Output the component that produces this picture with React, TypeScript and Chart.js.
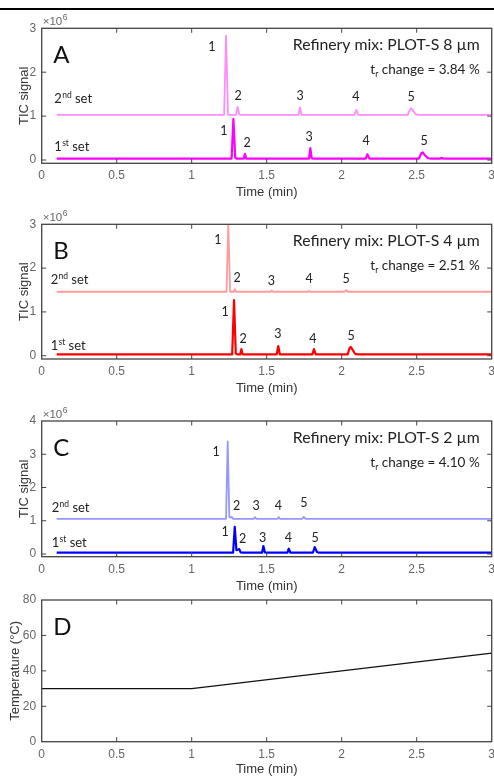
import React, { useEffect, useRef } from "react";
import { Chart, registerables } from "chart.js";

Chart.register(...registerables);

// ---------- shared axis data ----------
const timeTicks = [0, 0.5, 1, 1.5, 2, 2.5, 3];
const timeTickLabels = ["0", "0.5", "1", "1.5", "2", "2.5", "3"];
const ticTicks3 = [0, 1, 2, 3];
const ticTicks4 = [0, 1, 2, 3, 4];
const tempTicks = [0, 20, 40, 60, 80];

// ---------- Panel A: PLOT-S 8 µm (signal ×10^6) ----------
const a2ndTrace = [
  [0.1, 1.03], [1.216, 1.03], [1.229, 2.83], [1.242, 1.03], [1.296, 1.03], [1.306, 1.21], [1.317, 1.04],
  [1.33, 1.03], [1.712, 1.03], [1.722, 1.2], [1.732, 1.03], [2.085, 1.03], [2.097, 1.14], [2.112, 1.03],
  [2.44, 1.03], [2.455, 1.15], [2.464, 1.18], [2.475, 1.13], [2.495, 1.04], [2.52, 1.03], [3, 1.03],
];
const a1stTrace = [
  [0.1, 0.03], [1.266, 0.03], [1.278, 0.94], [1.29, 0.05], [1.3, 0.03], [1.347, 0.03], [1.355, 0.14],
  [1.364, 0.03], [1.782, 0.03], [1.791, 0.27], [1.8, 0.04], [1.81, 0.03], [2.16, 0.03], [2.171, 0.13],
  [2.185, 0.03], [2.515, 0.03], [2.53, 0.15], [2.54, 0.175], [2.552, 0.12], [2.575, 0.04], [2.6, 0.03],
  [2.655, 0.03], [2.665, 0.05], [2.68, 0.03], [3, 0.03],
];
const a2ndPeakLabels: [number, number, string][] = [
  [1.135, 2.57, "1"], [1.309, 1.46, "2"], [1.722, 1.46, "3"], [2.095, 1.44, "4"], [2.462, 1.44, "5"],
];
const a1stPeakLabels: [number, number, string][] = [
  [1.215, 0.66, "1"], [1.369, 0.39, "2"], [1.782, 0.52, "3"], [2.162, 0.43, "4"], [2.549, 0.43, "5"],
];
const aSetLabels: [number, number, string, string][] = [
  [0.084, 1.29, "2", "nd"], [0.084, 0.21, "1", "st"],
];

// ---------- Panel B: PLOT-S 4 µm ----------
const b2ndTrace = [
  [0.1, 1.46], [1.232, 1.46], [1.244, 3.0], [1.256, 1.46], [1.28, 1.46], [1.287, 1.52], [1.296, 1.46],
  [1.526, 1.46], [1.533, 1.49], [1.541, 1.46], [1.775, 1.46], [1.782, 1.48], [1.79, 1.46],
  [2.018, 1.46], [2.029, 1.5], [2.042, 1.46], [3, 1.46],
];
const b1stTrace = [
  [0.1, 0.03], [1.27, 0.03], [1.282, 1.27], [1.294, 0.05], [1.303, 0.03], [1.323, 0.03], [1.331, 0.15],
  [1.34, 0.03], [1.567, 0.03], [1.577, 0.22], [1.588, 0.03], [1.805, 0.03], [1.815, 0.15], [1.827, 0.03],
  [2.04, 0.03], [2.052, 0.17], [2.06, 0.2], [2.07, 0.15], [2.09, 0.04], [2.11, 0.03], [3, 0.03],
];
const b2ndPeakLabels: [number, number, string][] = [
  [1.175, 2.64, "1"], [1.302, 1.77, "2"], [1.531, 1.7, "3"], [1.782, 1.75, "4"], [2.029, 1.75, "5"],
];
const b1stPeakLabels: [number, number, string][] = [
  [1.222, 1.0, "1"], [1.342, 0.38, "2"], [1.575, 0.5, "3"], [1.807, 0.38, "4"], [2.062, 0.45, "5"],
];
const bSetLabels: [number, number, string, string][] = [
  [0.06, 1.63, "2", "nd"], [0.06, 0.12, "1", "st"],
];

// ---------- Panel C: PLOT-S 2 µm ----------
const c2ndTrace = [
  [0.1, 1.06], [1.229, 1.06], [1.24, 3.39], [1.251, 1.1], [1.262, 1.1], [1.267, 1.12], [1.275, 1.06],
  [1.414, 1.06], [1.422, 1.11], [1.43, 1.06], [1.572, 1.06], [1.58, 1.11], [1.588, 1.06],
  [1.737, 1.06], [1.747, 1.12], [1.76, 1.06], [3, 1.06],
];
const c1stTrace = [
  [0.1, 0.04], [1.276, 0.04], [1.287, 0.82], [1.298, 0.12], [1.31, 0.13], [1.317, 0.15], [1.326, 0.05],
  [1.34, 0.04], [1.469, 0.04], [1.478, 0.24], [1.488, 0.05], [1.498, 0.04], [1.638, 0.04], [1.647, 0.16],
  [1.658, 0.04], [1.808, 0.04], [1.82, 0.21], [1.835, 0.06], [1.85, 0.04], [3, 0.04],
];
const c2ndPeakLabels: [number, number, string][] = [
  [1.162, 3.08, "1"], [1.3, 1.45, "2"], [1.429, 1.45, "3"], [1.577, 1.45, "4"], [1.747, 1.53, "5"],
];
const c1stPeakLabels: [number, number, string][] = [
  [1.222, 0.67, "1"], [1.34, 0.45, "2"], [1.473, 0.48, "3"], [1.644, 0.48, "4"], [1.822, 0.48, "5"],
];
const cSetLabels: [number, number, string, string][] = [
  [0.067, 1.27, "2", "nd"], [0.067, 0.21, "1", "st"],
];

// ---------- Panel D: oven temperature program ----------
const tempProgram = [[0, 30], [1, 30], [3, 50]];

// ---------- styling / layout ----------
const AREA_LEFT = 41.7;
const AREA_RIGHT = 491.7;
const W = 494;
const AXIS_FONT = "'Liberation Sans', Arial, sans-serif";
const ANN_FONT = "Lato, 'Open Sans', sans-serif";
const TICK_COLOR = "#666666";
const TITLE_COLOR = "#333333";
const FRAME_COLOR = "#444444";

interface Series { data: number[][]; color: string; width: number }
interface PanelCfg {
  top: number; height: number; areaTop: number; xAxisH: number;
  yMin: number; yMax: number; yTicks: number[]; yTitle: string; yTitlePad: number;
  exponent: boolean; letter: string; title?: string; change?: string;
  series: Series[]; peakLabels: [number, number, string][]; setLabels: [number, number, string, string][];
}

const panels: PanelCfg[] = [
  {
    top: 0, height: 200, areaTop: 28.3, xAxisH: 36.7, yMin: -0.075, yMax: 3, yTicks: ticTicks3,
    yTitle: "TIC signal", yTitlePad: 16.2, exponent: true, letter: "A",
    title: "Refinery mix: PLOT-S 8 µm", change: "3.84 %",
    series: [
      { data: a2ndTrace, color: "rgb(255,140,255)", width: 1.8 },
      { data: a1stTrace, color: "rgb(255,0,255)", width: 2.2 },
    ],
    peakLabels: [...a2ndPeakLabels, ...a1stPeakLabels], setLabels: aSetLabels,
  },
  {
    top: 200, height: 196, areaTop: 24.3, xAxisH: 37, yMin: -0.075, yMax: 3, yTicks: ticTicks3,
    yTitle: "TIC signal", yTitlePad: 16.2, exponent: true, letter: "B",
    title: "Refinery mix: PLOT-S 4 µm", change: "2.51 %",
    series: [
      { data: b2ndTrace, color: "rgb(255,155,155)", width: 1.8 },
      { data: b1stTrace, color: "rgb(255,0,0)", width: 2.2 },
    ],
    peakLabels: [...b2ndPeakLabels, ...b1stPeakLabels], setLabels: bSetLabels,
  },
  {
    top: 396, height: 198, areaTop: 25, xAxisH: 37.3, yMin: -0.08, yMax: 4, yTicks: ticTicks4,
    yTitle: "TIC signal", yTitlePad: 16.2, exponent: true, letter: "C",
    title: "Refinery mix: PLOT-S 2 µm", change: "4.10 %",
    series: [
      { data: c2ndTrace, color: "rgb(150,150,255)", width: 1.8 },
      { data: c1stTrace, color: "rgb(0,0,255)", width: 2.2 },
    ],
    peakLabels: [...c2ndPeakLabels, ...c1stPeakLabels], setLabels: cSetLabels,
  },
  {
    top: 594, height: 183, areaTop: 6, xAxisH: 35.3, yMin: 0, yMax: 80, yTicks: tempTicks,
    yTitle: "Temperature (°C)", yTitlePad: 7.2, exponent: false, letter: "D",
    series: [{ data: tempProgram, color: "#111111", width: 1.3 }],
    peakLabels: [], setLabels: [],
  },
];

function makeOverlay(cfg: PanelCfg) {
  return {
    id: "overlay",
    afterDraw(chart: any) {
      const { ctx, chartArea: ca, scales } = chart;
      const x = scales.x;
      const y = scales.y;
      ctx.save();
      // inward ticks
      ctx.strokeStyle = FRAME_COLOR;
      ctx.lineWidth = 1;
      const TL = 4.5;
      ctx.beginPath();
      timeTicks.forEach((v) => {
        const px = x.getPixelForValue(v);
        if (px <= ca.left + 1 || px >= ca.right - 1) return;
        ctx.moveTo(px, ca.bottom); ctx.lineTo(px, ca.bottom - TL);
        ctx.moveTo(px, ca.top); ctx.lineTo(px, ca.top + TL);
      });
      cfg.yTicks.forEach((v) => {
        const py = y.getPixelForValue(v);
        if (py <= ca.top + 1 || py >= ca.bottom - 1) return;
        ctx.moveTo(ca.left, py); ctx.lineTo(ca.left + TL, py);
        ctx.moveTo(ca.right, py); ctx.lineTo(ca.right - TL, py);
      });
      ctx.stroke();
      // frame
      ctx.lineWidth = 1.3;
      ctx.strokeRect(ca.left, ca.top, ca.right - ca.left, ca.bottom - ca.top);

      // exponent label
      if (cfg.exponent) {
        ctx.fillStyle = TICK_COLOR;
        ctx.textBaseline = "alphabetic";
        ctx.textAlign = "left";
        ctx.font = `11.5px ${AXIS_FONT}`;
        const base = "×10";
        ctx.fillText(base, ca.left + 1, ca.top - 3);
        const w = ctx.measureText(base).width;
        ctx.font = `8.5px ${AXIS_FONT}`;
        ctx.fillText("6", ca.left + 1 + w + 0.5, ca.top - 8);
      }

      // panel letter
      ctx.fillStyle = "#111111";
      ctx.font = `24px ${ANN_FONT}`;
      ctx.textAlign = "left";
      ctx.textBaseline = "alphabetic";
      ctx.fillText(cfg.letter, ca.left + 11.5, ca.top + 34.5);

      // titles
      if (cfg.title) {
        ctx.font = `15.8px ${ANN_FONT}`;
        ctx.textAlign = "right";
        ctx.fillStyle = "#222222";
        ctx.fillText(cfg.title, ca.right - 12, ca.top + 22);
      }
      if (cfg.change) {
        const rx = ca.right - 12;
        const by = ca.top + 46;
        ctx.font = `13.5px ${ANN_FONT}`;
        const rest = " change = " + cfg.change;
        const wRest = ctx.measureText(rest).width;
        const wt = ctx.measureText("t").width;
        ctx.font = `8.5px ${ANN_FONT}`;
        const wr = ctx.measureText("r").width;
        let cx = rx - wRest - wr - wt;
        ctx.textAlign = "left";
        ctx.font = `13.5px ${ANN_FONT}`;
        ctx.fillText("t", cx, by);
        cx += wt;
        ctx.font = `8.5px ${ANN_FONT}`;
        ctx.fillText("r", cx, by + 2.5);
        cx += wr;
        ctx.font = `13.5px ${ANN_FONT}`;
        ctx.fillText(rest, cx, by);
      }

      // peak labels
      ctx.font = `12.5px ${ANN_FONT}`;
      ctx.textAlign = "center";
      ctx.textBaseline = "middle";
      ctx.fillStyle = "#222222";
      cfg.peakLabels.forEach(([t, v, s]) => {
        ctx.fillText(s, x.getPixelForValue(t), y.getPixelForValue(v));
      });

      // set labels
      ctx.textAlign = "left";
      ctx.textBaseline = "alphabetic";
      cfg.setLabels.forEach(([t, v, n, sup]) => {
        let cx = x.getPixelForValue(t);
        const by = y.getPixelForValue(v);
        ctx.font = `13px ${ANN_FONT}`;
        ctx.fillText(n, cx, by);
        cx += ctx.measureText(n).width;
        ctx.font = `8.5px ${ANN_FONT}`;
        ctx.fillText(sup, cx + 0.3, by - 5);
        cx += ctx.measureText(sup).width + 0.3;
        ctx.font = `13px ${ANN_FONT}`;
        ctx.fillText(" set", cx, by);
      });
      ctx.restore();
    },
  };
}

function Panel({ cfg }: { cfg: PanelCfg }) {
  const ref = useRef<HTMLCanvasElement>(null);
  useEffect(() => {
    const canvas = ref.current;
    if (!canvas) return;
    const chart = new Chart(canvas, {
      type: "line",
      data: {
        datasets: cfg.series.map((s) => ({
          data: s.data.map(([t, v]) => ({ x: t, y: v })),
          borderColor: s.color,
          borderWidth: s.width,
          pointRadius: 0,
          tension: 0,
          fill: false,
          borderJoinStyle: "round" as const,
        })),
      },
      options: {
        animation: false,
        responsive: false,
        devicePixelRatio: 1,
        layout: { padding: { top: cfg.areaTop, left: 0, right: W - AREA_RIGHT, bottom: 0 } },
        plugins: { legend: { display: false }, tooltip: { enabled: false } },
        scales: {
          x: {
            type: "linear",
            min: 0,
            max: 3,
            grid: { display: false, drawTicks: false },
            border: { display: false },
            afterBuildTicks: (s: any) => { s.ticks = timeTicks.map((v) => ({ value: v })); },
            afterFit: (s: any) => { s.height = cfg.xAxisH; s.paddingLeft = 0; s.paddingRight = 0; },
            ticks: {
              padding: 5.5,
              color: TICK_COLOR,
              font: { family: AXIS_FONT, size: 12 },
              maxRotation: 0,
              autoSkip: false,
              callback: (_v: any, i: number) => timeTickLabels[i],
            },
            title: {
              display: true,
              text: "Time (min)",
              color: TITLE_COLOR,
              font: { family: AXIS_FONT, size: 13 },
              padding: 0,
            },
          },
          y: {
            type: "linear",
            min: cfg.yMin,
            max: cfg.yMax,
            grid: { display: false, drawTicks: false },
            border: { display: false },
            afterBuildTicks: (s: any) => { s.ticks = cfg.yTicks.map((v) => ({ value: v })); },
            afterFit: (s: any) => { s.width = AREA_LEFT; s.paddingTop = 0; s.paddingBottom = 0; },
            ticks: {
              padding: 5.5,
              color: TICK_COLOR,
              font: { family: AXIS_FONT, size: 12 },
              autoSkip: false,
              callback: (v: any) => String(v),
            },
            title: {
              display: true,
              text: cfg.yTitle,
              color: TITLE_COLOR,
              font: { family: AXIS_FONT, size: 13 },
              padding: { top: cfg.yTitlePad, bottom: 0 },
            },
          },
        },
      },
      plugins: [makeOverlay(cfg)],
    } as any);
    return () => chart.destroy();
  }, [cfg]);
  return (
    <canvas
      ref={ref}
      width={W}
      height={cfg.height}
      style={{ position: "absolute", left: 0, top: cfg.top, display: "block", width: W, height: cfg.height }}
    />
  );
}

export default function App() {
  return (
    <div style={{ position: "absolute", left: 0, top: 0, width: W, height: 777, background: "#ffffff", overflow: "hidden" }}>
      <div style={{ position: "absolute", left: 0, top: 8, width: W, height: 1.5, background: "#000000" }} />
      {panels.map((p) => (
        <Panel key={p.letter} cfg={p} />
      ))}
    </div>
  );
}
